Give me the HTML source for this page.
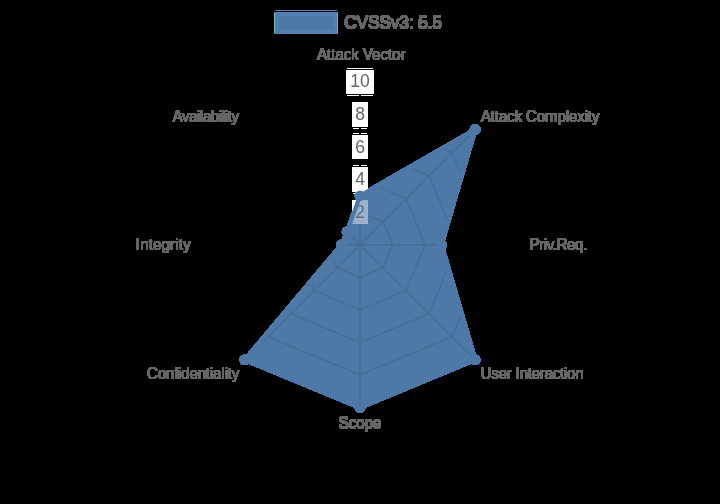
<!DOCTYPE html>
<html><head><meta charset="utf-8"><title>CVSSv3 radar</title><style>html,body{margin:0;padding:0;background:#000;overflow:hidden;width:720px;height:504px}svg{display:block}text{font-family:"Liberation Sans",sans-serif;fill:#666}</style></head><body>
<svg width="720" height="504" viewBox="0 0 720 504">
<defs>
<filter id="ab" x="0" y="0" width="720" height="504" filterUnits="userSpaceOnUse" color-interpolation-filters="sRGB"><feColorMatrix type="matrix" values="1 0 0 0 0 0 1 0 0 0 0 0 1 0 0 0 0 0 255 0"/></filter>
<clipPath id="dc"><path d="M360,195.86 L475.12,129.58 L441.4,244.7 L475.12,359.82 L360,407.5 L244.88,359.82 L341.77,244.7 L347.11,231.81 Z"/></clipPath>
<clipPath id="bc"><rect x="352" y="200" width="16" height="24"/><rect x="352" y="167" width="16" height="25"/><rect x="352" y="135" width="16" height="24"/><rect x="352" y="102" width="16" height="25"/><rect x="346" y="70" width="28" height="24"/></clipPath>
</defs>
<g filter="url(#ab)">
<rect x="276.3" y="14.1" width="59.3" height="17.6" fill="rgb(78,121,167)" stroke="rgb(83,128,176)" stroke-width="4.2"/>
<rect x="275" y="10" width="62" height="1" fill="rgb(83,128,176)"/>
<rect x="274" y="13" width="1" height="20" fill="rgb(96,190,178)"/><rect x="337" y="13" width="1" height="20" fill="rgb(96,190,178)"/>
<g transform="matrix(1,0,0,1.04,0,-1.144)"><text x="343.8" y="28.3" font-size="17.5" textLength="97.9" lengthAdjust="spacing">CVSSv3: 5.5</text><text x="343.8" y="28.9" font-size="17.5" textLength="97.9" lengthAdjust="spacing">CVSSv3: 5.5</text><text x="344.4" y="28.3" font-size="17.5" textLength="97.9" lengthAdjust="spacing">CVSSv3: 5.5</text><text x="344.4" y="28.9" font-size="17.5" textLength="97.9" lengthAdjust="spacing">CVSSv3: 5.5</text></g>
<g transform="matrix(1,0,0,1.04,0,-2.396)"><text x="361" y="59.6" font-size="15" text-anchor="middle">Attack Vector</text><text x="361" y="60.2" font-size="15" text-anchor="middle">Attack Vector</text><text x="361.6" y="59.6" font-size="15" text-anchor="middle">Attack Vector</text><text x="361.6" y="60.2" font-size="15" text-anchor="middle">Attack Vector</text></g>
<g transform="matrix(1,0,0,1.04,0,-4.876)"><text x="480.6" y="121.6" font-size="15" textLength="118.5" lengthAdjust="spacing">Attack Complexity</text><text x="480.6" y="122.2" font-size="15" textLength="118.5" lengthAdjust="spacing">Attack Complexity</text><text x="481.2" y="121.6" font-size="15" textLength="118.5" lengthAdjust="spacing">Attack Complexity</text><text x="481.2" y="122.2" font-size="15" textLength="118.5" lengthAdjust="spacing">Attack Complexity</text></g>
<g transform="matrix(1,0,0,1.04,0,-10.004)"><text x="529.3" y="249.8" font-size="15" textLength="57.6" lengthAdjust="spacing">Priv.Req.</text><text x="529.3" y="250.4" font-size="15" textLength="57.6" lengthAdjust="spacing">Priv.Req.</text><text x="529.9" y="249.8" font-size="15" textLength="57.6" lengthAdjust="spacing">Priv.Req.</text><text x="529.9" y="250.4" font-size="15" textLength="57.6" lengthAdjust="spacing">Priv.Req.</text></g>
<g transform="matrix(1,0,0,1.04,0,-15.164)"><text x="480.5" y="378.8" font-size="15" textLength="102.8" lengthAdjust="spacing">User Interaction</text><text x="480.5" y="379.4" font-size="15" textLength="102.8" lengthAdjust="spacing">User Interaction</text><text x="481.1" y="378.8" font-size="15" textLength="102.8" lengthAdjust="spacing">User Interaction</text><text x="481.1" y="379.4" font-size="15" textLength="102.8" lengthAdjust="spacing">User Interaction</text></g>
<g transform="matrix(1,0,0,1.04,0,-17.140)"><text x="359.7" y="428.2" font-size="15" text-anchor="middle">Scope</text><text x="359.7" y="428.8" font-size="15" text-anchor="middle">Scope</text><text x="360.3" y="428.2" font-size="15" text-anchor="middle">Scope</text><text x="360.3" y="428.8" font-size="15" text-anchor="middle">Scope</text></g>
<g transform="matrix(1,0,0,1.04,0,-15.164)"><text x="238.9" y="378.8" font-size="15" text-anchor="end" textLength="92.2" lengthAdjust="spacing">Confidentiality</text><text x="238.9" y="379.4" font-size="15" text-anchor="end" textLength="92.2" lengthAdjust="spacing">Confidentiality</text><text x="239.5" y="378.8" font-size="15" text-anchor="end" textLength="92.2" lengthAdjust="spacing">Confidentiality</text><text x="239.5" y="379.4" font-size="15" text-anchor="end" textLength="92.2" lengthAdjust="spacing">Confidentiality</text></g>
<g transform="matrix(1,0,0,1.04,0,-10.004)"><text x="190.3" y="249.8" font-size="15" text-anchor="end" textLength="54.7" lengthAdjust="spacing">Integrity</text><text x="190.3" y="250.4" font-size="15" text-anchor="end" textLength="54.7" lengthAdjust="spacing">Integrity</text><text x="190.9" y="249.8" font-size="15" text-anchor="end" textLength="54.7" lengthAdjust="spacing">Integrity</text><text x="190.9" y="250.4" font-size="15" text-anchor="end" textLength="54.7" lengthAdjust="spacing">Integrity</text></g>
<g transform="matrix(1,0,0,1.04,0,-4.876)"><text x="238.7" y="121.6" font-size="15" text-anchor="end" textLength="66.4" lengthAdjust="spacing">Availability</text><text x="238.7" y="122.2" font-size="15" text-anchor="end" textLength="66.4" lengthAdjust="spacing">Availability</text><text x="239.3" y="121.6" font-size="15" text-anchor="end" textLength="66.4" lengthAdjust="spacing">Availability</text><text x="239.3" y="122.2" font-size="15" text-anchor="end" textLength="66.4" lengthAdjust="spacing">Availability</text></g>
<rect x="352" y="200" width="16" height="24" fill="#fff"/>
<rect x="352" y="167" width="16" height="25" fill="#fff"/>
<rect x="352" y="135" width="16" height="24" fill="#fff"/>
<rect x="352" y="102" width="16" height="25" fill="#fff"/>
<rect x="346" y="70" width="28" height="24" fill="#fff"/>
<g clip-path="url(#bc)" fill="none" stroke="rgb(247,247,247)" stroke-width="1.5"><path d="M360,212.14 L383.02,221.68 L392.56,244.7 L383.02,267.72 L360,277.26 L336.98,267.72 L327.44,244.7 L336.98,221.68 Z"/><path d="M360,179.58 L406.05,198.65 L425.12,244.7 L406.05,290.75 L360,309.82 L313.95,290.75 L294.88,244.7 L313.95,198.65 Z"/><path d="M360,147.02 L429.07,175.63 L457.68,244.7 L429.07,313.77 L360,342.38 L290.93,313.77 L262.32,244.7 L290.93,175.63 Z"/><path d="M360,114.46 L452.09,152.61 L490.24,244.7 L452.09,336.79 L360,374.94 L267.91,336.79 L229.76,244.7 L267.91,152.61 Z"/><path d="M360,81.9 L475.12,129.58 L522.8,244.7 L475.12,359.82 L360,407.5 L244.88,359.82 L197.2,244.7 L244.88,129.58 Z"/><path d="M360,244.7 L360,81.9"/><path d="M360,244.7 L475.12,129.58"/><path d="M360,244.7 L522.8,244.7"/><path d="M360,244.7 L475.12,359.82"/><path d="M360,244.7 L360,407.5"/><path d="M360,244.7 L244.88,359.82"/><path d="M360,244.7 L197.2,244.7"/><path d="M360,244.7 L244.88,129.58"/></g>
<text x="360" y="217.64" font-size="17.5" text-anchor="middle">2</text>
<text x="360" y="185.08" font-size="17.5" text-anchor="middle">4</text>
<text x="360" y="152.52" font-size="17.5" text-anchor="middle">6</text>
<text x="360" y="119.96" font-size="17.5" text-anchor="middle">8</text>
<text x="360" y="87.4" font-size="17.5" text-anchor="middle">10</text>
<rect x="347" y="68" width="26" height="1" fill="#fff"/>
<rect x="347" y="95" width="12" height="1" fill="#fff"/><rect x="361" y="95" width="12" height="1" fill="#fff"/>
<rect x="353" y="128" width="6" height="1" fill="#fff"/><rect x="361" y="128" width="6" height="1" fill="#fff"/>
<rect x="353" y="133" width="6" height="1" fill="#fff"/><rect x="361" y="133" width="6" height="1" fill="#fff"/>
<rect x="353" y="165" width="6" height="1" fill="#fff"/><rect x="361" y="165" width="6" height="1" fill="#fff"/>
<rect x="353" y="193" width="6" height="1" fill="#fff"/><rect x="361" y="193" width="6" height="1" fill="#fff"/>
<path d="M360,195.86 L475.12,129.58 L441.4,244.7 L475.12,359.82 L360,407.5 L244.88,359.82 L341.77,244.7 L347.11,231.81 Z" fill="rgb(78,121,167)"/>
<g clip-path="url(#dc)">
<g fill="none" stroke="rgb(71,110,152)" stroke-width="1.5"><path d="M360,212.14 L383.02,221.68 L392.56,244.7 L383.02,267.72 L360,277.26 L336.98,267.72 L327.44,244.7 L336.98,221.68 Z"/><path d="M360,179.58 L406.05,198.65 L425.12,244.7 L406.05,290.75 L360,309.82 L313.95,290.75 L294.88,244.7 L313.95,198.65 Z"/><path d="M360,147.02 L429.07,175.63 L457.68,244.7 L429.07,313.77 L360,342.38 L290.93,313.77 L262.32,244.7 L290.93,175.63 Z"/><path d="M360,114.46 L452.09,152.61 L490.24,244.7 L452.09,336.79 L360,374.94 L267.91,336.79 L229.76,244.7 L267.91,152.61 Z"/><path d="M360,81.9 L475.12,129.58 L522.8,244.7 L475.12,359.82 L360,407.5 L244.88,359.82 L197.2,244.7 L244.88,129.58 Z"/><path d="M360,244.7 L360,81.9"/><path d="M360,244.7 L475.12,129.58"/><path d="M360,244.7 L522.8,244.7"/><path d="M360,244.7 L475.12,359.82"/><path d="M360,244.7 L360,407.5"/><path d="M360,244.7 L244.88,359.82"/><path d="M360,244.7 L197.2,244.7"/><path d="M360,244.7 L244.88,129.58"/></g>
<rect x="352" y="200" width="16" height="24" fill="rgb(154,178,205)"/>
<rect x="352" y="167" width="16" height="25" fill="rgb(154,178,205)"/>
<rect x="352" y="135" width="16" height="24" fill="rgb(154,178,205)"/>
<rect x="352" y="102" width="16" height="25" fill="rgb(154,178,205)"/>
<rect x="346" y="70" width="28" height="24" fill="rgb(154,178,205)"/>
<text x="360" y="217.64" font-size="17.5" text-anchor="middle" style="fill:rgb(90,112,134)">2</text>
<text x="360" y="185.08" font-size="17.5" text-anchor="middle" style="fill:rgb(90,112,134)">4</text>
<text x="360" y="152.52" font-size="17.5" text-anchor="middle" style="fill:rgb(90,112,134)">6</text>
<text x="360" y="119.96" font-size="17.5" text-anchor="middle" style="fill:rgb(90,112,134)">8</text>
<text x="360" y="87.4" font-size="17.5" text-anchor="middle" style="fill:rgb(90,112,134)">10</text>
</g>
<path d="M360,195.86 L475.12,129.58 L441.4,244.7 L475.12,359.82 L360,407.5 L244.88,359.82 L341.77,244.7 L347.11,231.81 Z" fill="none" stroke="rgb(78,121,167)" stroke-width="4.2" stroke-linejoin="miter"/>
<circle cx="360" cy="195.86" r="5.25" fill="rgb(78,121,167)"/>
<circle cx="475.12" cy="129.58" r="5.25" fill="rgb(78,121,167)"/>
<circle cx="441.4" cy="244.7" r="5.25" fill="rgb(78,121,167)"/>
<circle cx="475.12" cy="359.82" r="5.25" fill="rgb(78,121,167)"/>
<circle cx="360" cy="407.5" r="5.25" fill="rgb(78,121,167)"/>
<circle cx="244.88" cy="359.82" r="5.25" fill="rgb(78,121,167)"/>
<circle cx="341.77" cy="244.7" r="5.25" fill="rgb(78,121,167)"/>
<circle cx="347.11" cy="231.81" r="5.25" fill="rgb(78,121,167)"/>
</g></svg></body></html>
